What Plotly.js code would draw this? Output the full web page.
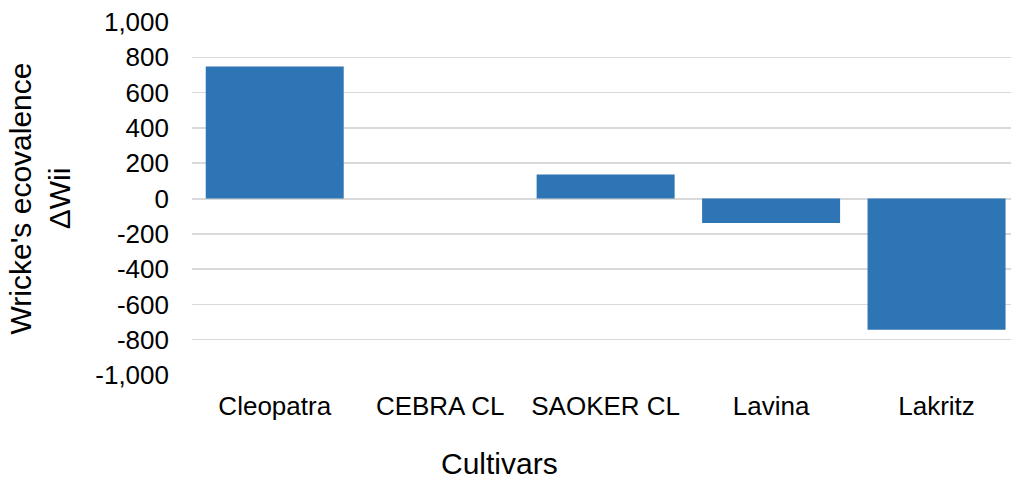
<!DOCTYPE html>
<html>
<head>
<meta charset="utf-8">
<script src="https://cdn.plot.ly/plotly-3.0.1.min.js"></script>
<style>html,body{margin:0;padding:0;background:#fff;overflow:hidden;}#chart{width:1011px;height:481px;}</style>
</head>
<body>
<div id="chart"></div>
<script>
const cultivars = ["Cleopatra", "CEBRA CL", "SAOKER CL", "Lavina", "Lakritz"];
const ecovalence = [748, 0, 136, -139, -744];
const yTickVals = [1000, 800, 600, 400, 200, 0, -200, -400, -600, -800, -1000];
const yTickText = ["1,000", "800", "600", "400", "200", "0", "-200", "-400", "-600", "-800", "-1,000"];

const trace = {
  type: "bar",
  x: cultivars,
  y: ecovalence,
  marker: { color: "#2e75b6", line: { width: 0 } },
  hoverinfo: "x+y"
};

const layout = {
  width: 1011, height: 481,
  margin: { l: 192, r: 0, t: 22, b: 106 },
  paper_bgcolor: "#fff", plot_bgcolor: "#fff",
  font: { family: "Liberation Sans, Arial, sans-serif", color: "#000", size: 26 },
  showlegend: false,
  bargap: 0.166,
  xaxis: {
    range: [-0.5, 4.45],
    showgrid: false, showline: false, ticks: "",
    tickfont: { size: 26 },
    ticklabelstandoff: 13,
    zeroline: false
  },
  yaxis: {
    title: { text: "Wricke's ecovalence<br>ΔWii", font: { size: 30 }, standoff: 15 },
    range: [-1000, 1000],
    tickvals: yTickVals, ticktext: yTickText,
    tickfont: { size: 26 },
    ticklabelstandoff: 22,
    showgrid: true, gridcolor: "#d9d9d9", gridwidth: 1.5,
    zeroline: true, zerolinecolor: "#d9d9d9", zerolinewidth: 2,
    showline: false, ticks: "", ticklen: 0
  },
  annotations: [{
    text: "Cultivars",
    xref: "paper", yref: "paper",
    x: 0.376, y: -0.25,
    xanchor: "center", yanchor: "middle",
    showarrow: false,
    font: { size: 30, color: "#000" }
  }]
};

Plotly.newPlot("chart", [trace], layout, { displayModeBar: false, staticPlot: true });
</script>
</body>
</html>
